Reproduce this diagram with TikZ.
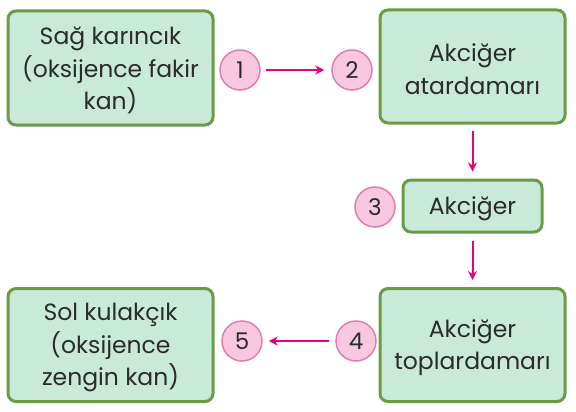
\documentclass[tikz,border=0pt]{standalone}
\usepackage{fontspec}
\setmainfont{Poppins}
\usetikzlibrary{arrows.meta}
\definecolor{boxfill}{HTML}{C9E9D9}
\definecolor{boxline}{HTML}{6B9B47}
\definecolor{circfill}{HTML}{F7C8E0}
\definecolor{circline}{HTML}{E07DB3}
\definecolor{arrowcol}{HTML}{E3037F}
\definecolor{txt}{HTML}{2B2B2B}
\begin{document}
\begin{tikzpicture}[x=1pt,y=-1pt,
  stepbox/.style={draw=boxline,fill=boxfill,line width=3pt,rounded corners=8pt,
    inner sep=0pt},
  boxtext/.style={align=center,inner sep=0pt,text=txt,yshift=-2.5pt,
    font=\fontsize{23.5}{32.5}\selectfont},
  numcirc/.style={circle,draw=circline,fill=circfill,line width=1.5pt,
    minimum size=40pt,inner sep=0pt,text=txt,font=\fontsize{23}{26}\selectfont},
  flow/.style={draw=arrowcol,line width=2pt,-{Stealth[length=9pt,width=9pt]}}]
\useasboundingbox (0,0) rectangle (576,412);
\node[stepbox,minimum width=205pt,minimum height=114pt,
  label={[boxtext]center:Sağ karıncık\\(oksijence fakir\\kan)}] (b1) at (110.5,68) {};
\node[stepbox,minimum width=185pt,minimum height=113pt,
  label={[boxtext]center:Akciğer\\atardamarı}] (b2) at (472.5,66.5) {};
\node[stepbox,minimum width=139pt,minimum height=52pt,
  label={[boxtext]center:Akciğer}] (b3) at (472.5,206) {};
\node[stepbox,minimum width=185pt,minimum height=113pt,
  label={[boxtext]center:Akciğer\\toplardamarı}] (b4) at (472.5,345) {};
\node[stepbox,minimum width=205pt,minimum height=113pt,
  label={[boxtext]center:Sol kulakçık\\(oksijence\\zengin kan)}] (b5) at (110.5,345) {};
\node[numcirc] (c1) at (240,70) {1};
\node[numcirc] (c2) at (352,70) {2};
\node[numcirc] (c3) at (375,207) {3};
\node[numcirc] (c4) at (356,341) {4};
\node[numcirc] (c5) at (242,341) {5};
\draw[flow,shorten <=5pt,shorten >=7pt] (c1) -- (c2);
\draw[flow,shorten <=6pt,shorten >=7pt] (b2) -- (b3);
\draw[flow,shorten <=7pt,shorten >=7pt] (b3) -- (b4);
\draw[flow,shorten <=6pt,shorten >=6pt] (c4) -- (c5);
\end{tikzpicture}
\end{document}
